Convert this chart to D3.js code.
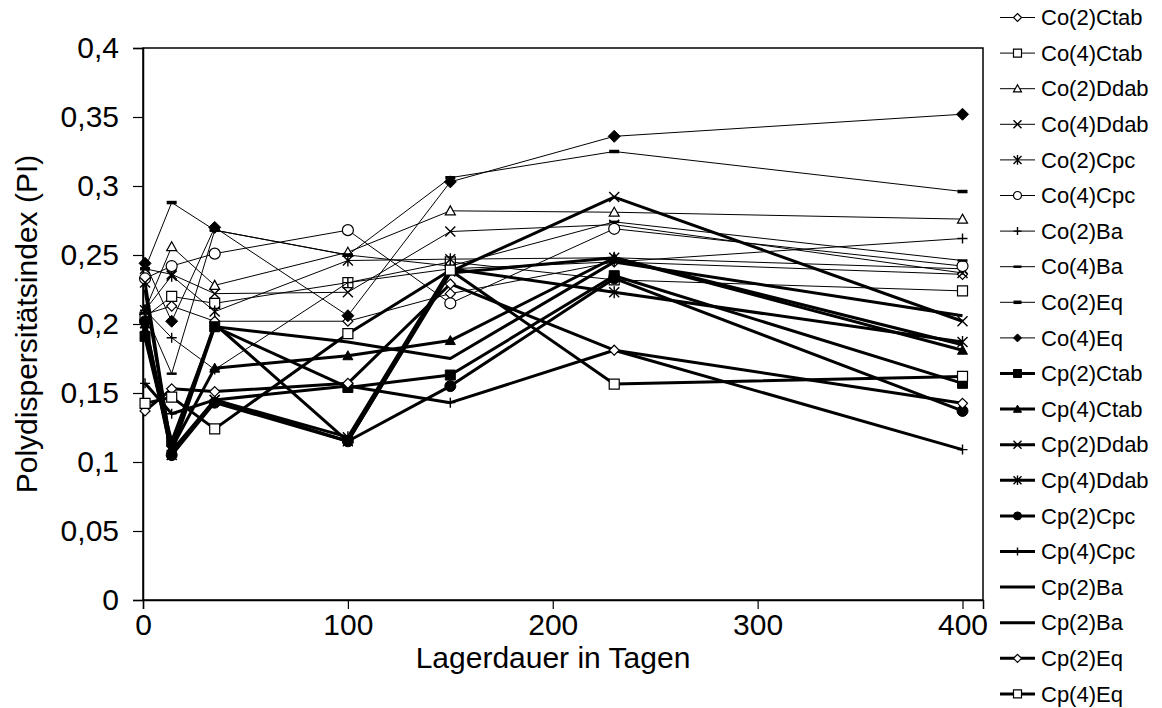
<!DOCTYPE html>
<html><head><meta charset="utf-8">
<script src="https://cdn.jsdelivr.net/npm/d3@7"></script>
<style>body{margin:0;background:#fff}svg{display:block}text{font-family:"Liberation Sans",Arial,sans-serif;fill:#000}</style>
</head><body><svg id="c" width="1162" height="708"></svg>
<script>
// ---- data ----
const days = [1, 14, 35, 100, 150, 230, 400];
const seriesNames = ["Co(2)Ctab","Co(4)Ctab","Co(2)Ddab","Co(4)Ddab","Co(2)Cpc","Co(4)Cpc","Co(2)Ba","Co(4)Ba","Co(2)Eq","Co(4)Eq",
  "Cp(2)Ctab","Cp(4)Ctab","Cp(2)Ddab","Cp(4)Ddab","Cp(2)Cpc","Cp(4)Cpc","Cp(2)Ba","Cp(2)Ba","Cp(2)Eq","Cp(4)Eq"];
const co2Ctab = [0.207, 0.213, 0.202, 0.202, 0.222, 0.245, 0.236];
const co4Ctab = [0.205, 0.220, 0.215, 0.230, 0.245, 0.232, 0.224];
const co2Ddab = [0.210, 0.256, 0.228, 0.252, 0.282, 0.281, 0.276];
const co4Ddab = [0.240, 0.236, 0.222, 0.223, 0.267, 0.272, 0.237];
const co2Cpc  = [0.210, 0.235, 0.209, 0.246, 0.247, 0.248, 0.240];
const co4Cpc  = [0.233, 0.242, 0.251, 0.268, 0.215, 0.269, 0.242];
const co2Ba   = [0.210, 0.190, 0.167, 0.230, 0.240, 0.245, 0.262];
const co4Ba   = [0.208, 0.164, 0.268, 0.250, 0.242, 0.274, 0.246];
const co2Eq   = [0.240, 0.288, 0.268, 0.250, 0.306, 0.325, 0.296];
const co4Eq   = [0.244, 0.202, 0.270, 0.206, 0.303, 0.336, 0.352];
const cp2Ctab = [0.191, 0.115, 0.198, 0.154, 0.163, 0.235, 0.157];
const cp4Ctab = [0.200, 0.110, 0.168, 0.177, 0.188, 0.248, 0.181];
const cp2Ddab = [0.230, 0.108, 0.145, 0.115, 0.238, 0.292, 0.202];
const cp4Ddab = [0.197, 0.105, 0.145, 0.118, 0.240, 0.223, 0.187];
const cp2Cpc  = [0.202, 0.105, 0.143, 0.115, 0.155, 0.233, 0.137];
const cp4Cpc  = [0.157, 0.135, 0.145, 0.155, 0.143, 0.181, 0.109];
const cp2Ba   = [0.225, 0.107, 0.198, 0.187, 0.175, 0.245, 0.206];
const cp2BaB  = [0.190, 0.110, 0.200, 0.115, 0.237, 0.248, 0.185];
const cp2Eq   = [0.137, 0.153, 0.151, 0.157, 0.229, 0.181, 0.1425];
const cp4Eq   = [0.1425, 0.147, 0.124, 0.193, 0.239, 0.1565, 0.162];
const seriesValues = [co2Ctab, co4Ctab, co2Ddab, co4Ddab, co2Cpc, co4Cpc, co2Ba, co4Ba, co2Eq, co4Eq,
  cp2Ctab, cp4Ctab, cp2Ddab, cp4Ddab, cp2Cpc, cp4Cpc, cp2Ba, cp2BaB, cp2Eq, cp4Eq];
const yTicks = [0, 0.05, 0.1, 0.15, 0.2, 0.25, 0.3, 0.35, 0.4];
const xTicks = [0, 100, 200, 300, 400];

// ---- styles ----
const markerTypes = ["diamondO","squareO","triangleO","x","asterisk","circleO","plus","dash","dashThick","diamondF",
  "squareF","triangleF","x","asterisk","circleF","plus","none","none","diamondO","squareO"];

const svg = d3.select("#c");
const L = 143, R = 983, T = 48, B = 600;
const x = d3.scaleLinear().domain([0, 410]).range([L, R]);
const y = d3.scaleLinear().domain([0, 0.4]).range([B, T]);

function markerPath(t, r) {
  switch (t) {
    case "diamondO": case "diamondF": return `M0,${-r}L${r},0L0,${r}L${-r},0Z`;
    case "squareO": case "squareF": return `M${-r},${-r}h${2*r}v${2*r}h${-2*r}Z`;
    case "triangleO": case "triangleF": return `M0,${-r}L${r},${r*0.8}L${-r},${r*0.8}Z`;
    case "x": return `M${-r},${-r}L${r},${r}M${-r},${r}L${r},${-r}`;
    case "asterisk": return `M${-r},${-r}L${r},${r}M${-r},${r}L${r},${-r}M0,${-r*1.2}L0,${r*1.2}`;
    case "circleO": case "circleF": return d3.arc()({innerRadius:0,outerRadius:r,startAngle:0,endAngle:2*Math.PI});
    case "plus": return `M${-r},0h${2*r}M0,${-r}v${2*r}`;
    case "dash": return `M${-r},0h${2*r}`;
    case "dashThick": return `M${-r},0h${2*r}`;
  }
  return "";
}
function drawMarker(g, t, cx, cy, r) {
  if (t === "none") return;
  const p = g.append("path").attr("d", markerPath(t, r)).attr("transform", `translate(${cx},${cy})`);
  if (t.endsWith("F")) p.attr("fill", "#000").attr("stroke", "#000").attr("stroke-width", 1);
  else if (t.endsWith("O")) p.attr("fill", "#fff").attr("stroke", "#000").attr("stroke-width", 1.2);
  else if (t === "dashThick") p.attr("fill", "none").attr("stroke", "#000").attr("stroke-width", 3.5);
  else if (t === "dash") p.attr("fill", "none").attr("stroke", "#000").attr("stroke-width", 2.5);
  else p.attr("fill", "none").attr("stroke", "#000").attr("stroke-width", 1.4);
}

// frame
svg.append("rect").attr("x", L).attr("y", T).attr("width", R - L).attr("height", B - T)
  .attr("fill", "none").attr("stroke", "#000").attr("stroke-width", 1.5);

// axes
const yAxis = d3.axisLeft(y).tickValues(yTicks).tickSize(10).tickPadding(14)
  .tickFormat(d => d3.format("")(d).replace(".", ","));
const gy = svg.append("g").attr("transform", `translate(${L},0)`).call(yAxis);
gy.select(".domain").attr("stroke", "#000").attr("stroke-width", 1.5);
gy.selectAll(".tick line").attr("stroke", "#000").attr("stroke-width", 1.2);
gy.selectAll(".tick text").attr("font-size", 30).attr("font-family", "Liberation Sans, Arial, sans-serif");

const xAxis = d3.axisBottom(x).tickValues(xTicks).tickSize(9).tickPadding(5).tickFormat(d3.format("d"));
const gx = svg.append("g").attr("transform", `translate(0,${B})`).call(xAxis);
gx.select(".domain").attr("stroke", "#000").attr("stroke-width", 1.5);
gx.selectAll(".tick line").attr("stroke", "#000").attr("stroke-width", 1.2);
gx.selectAll(".tick text").attr("font-size", 30).attr("font-family", "Liberation Sans, Arial, sans-serif");

// titles
svg.append("text").attr("transform", `translate(37,${(T + B) / 2}) rotate(-90)`).attr("text-anchor", "middle")
  .attr("font-size", 30).text("Polydispersitätsindex (PI)");
svg.append("text").attr("x", 553).attr("y", 668).attr("text-anchor", "middle")
  .attr("font-size", 30).text("Lagerdauer in Tagen");

// series
const line = d3.line().x((d, i) => x(days[i])).y(d => y(d));
const plot = svg.append("g");
seriesValues.forEach((vals, si) => {
  const thick = si >= 10;
  const g = plot.append("g");
  g.append("path").attr("d", line(vals)).attr("fill", "none").attr("stroke", "#000")
    .attr("stroke-width", thick ? 3 : 1).attr("stroke-linejoin", "round");
  vals.forEach((v, i) => {
    const t = markerTypes[si];
    const r = t === "diamondF" ? 6 : (t.startsWith("circle") ? 5.5 : 5);
    drawMarker(g, t, x(days[i]), y(v), r);
  });
});

// legend
const lg = svg.append("g");
seriesNames.forEach((n, i) => {
  const yy = 17.5 + i * 35.6;
  const thick = i >= 10;
  lg.append("line").attr("x1", 1000).attr("x2", 1035).attr("y1", yy).attr("y2", yy)
    .attr("stroke", "#000").attr("stroke-width", thick ? 3 : 1);
  drawMarker(lg, markerTypes[i], 1017.5, yy, 4);
  lg.append("text").attr("x", 1041).attr("y", yy).attr("dy", "0.35em").attr("font-size", 22).text(n);
});
</script></body></html>
